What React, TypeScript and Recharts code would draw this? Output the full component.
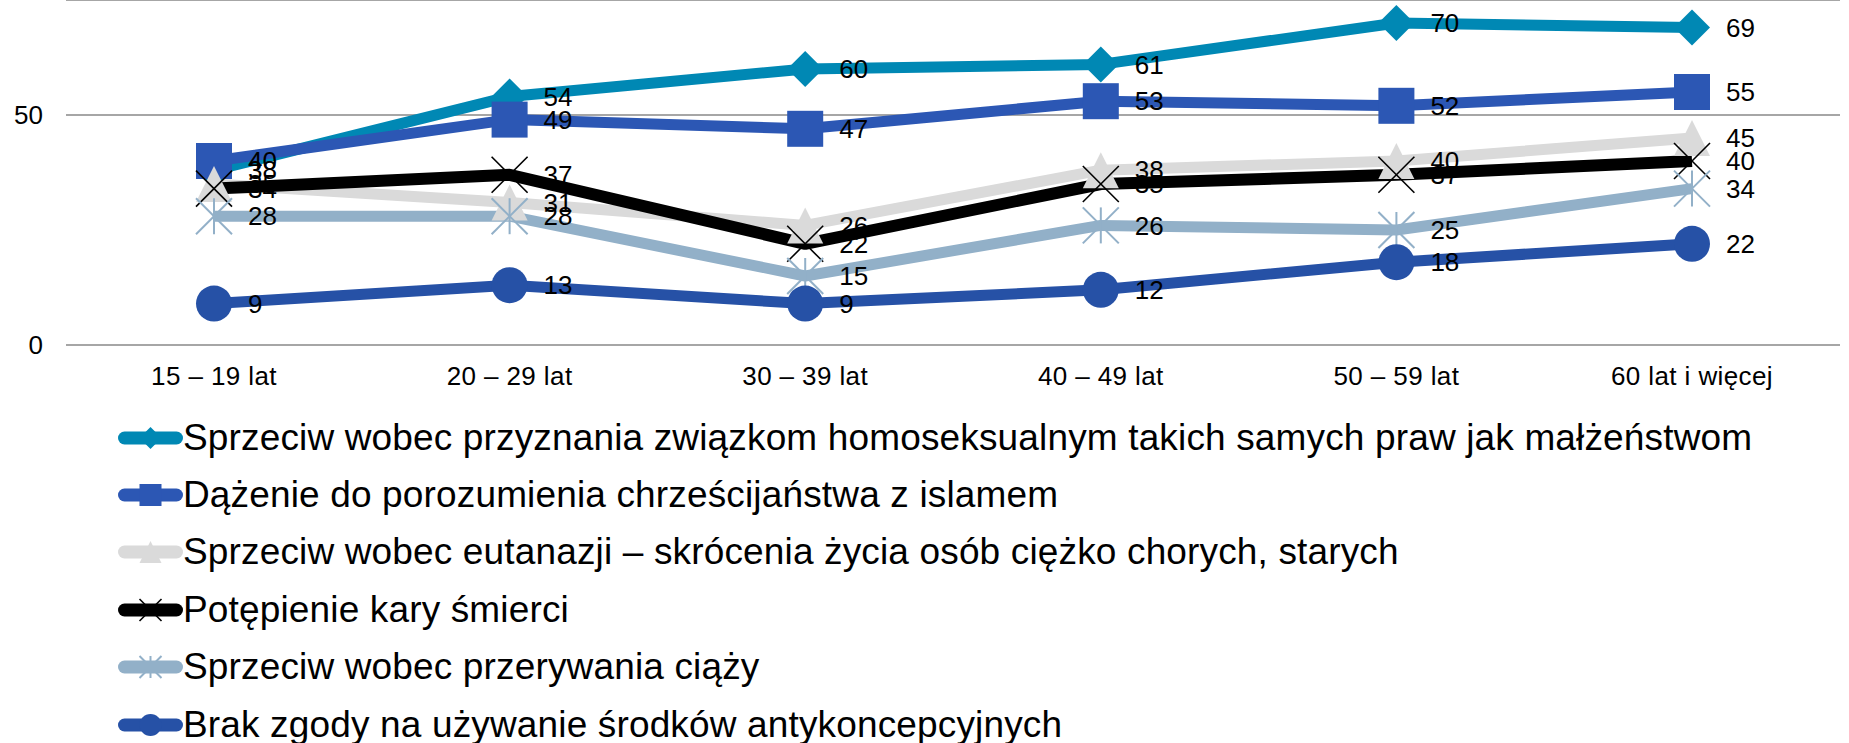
import { LineChart, Line, XAxis, YAxis, CartesianGrid, Legend, LabelList } from 'recharts';

const FONT = '"Liberation Sans", Arial, sans-serif';

const ageGroups = ['15 – 19 lat', '20 – 29 lat', '30 – 39 lat', '40 – 49 lat', '50 – 59 lat', '60 lat i więcej'];

const homoUnions = [38, 54, 60, 61, 70, 69];
const islamDialogue = [40, 49, 47, 53, 52, 55];
const euthanasia = [35, 31, 26, 38, 40, 45];
const deathPenalty = [34, 37, 22, 35, 37, 40];
const abortion = [28, 28, 15, 26, 25, 34];
const contraception = [9, 13, 9, 12, 18, 22];

const seriesNames = [
  'Sprzeciw wobec przyznania związkom homoseksualnym takich samych praw jak małżeństwom',
  'Dążenie do porozumienia chrześcijaństwa z islamem',
  'Sprzeciw wobec eutanazji – skrócenia życia osób ciężko chorych, starych',
  'Potępienie kary śmierci',
  'Sprzeciw wobec przerywania ciąży',
  'Brak zgody na używanie środków antykoncepcyjnych',
];

const yTicks = [0, 50];

type Shape = 'diamond' | 'square' | 'triangle' | 'x' | 'star' | 'circle';

const series: { key: string; values: number[]; color: string; width: number; shape: Shape }[] = [
  { key: 's1', values: homoUnions, color: '#0088b4', width: 11, shape: 'diamond' },
  { key: 's2', values: islamDialogue, color: '#2c57b4', width: 11, shape: 'square' },
  { key: 's3', values: euthanasia, color: '#dadada', width: 11, shape: 'triangle' },
  { key: 's4', values: deathPenalty, color: '#000000', width: 12, shape: 'x' },
  { key: 's5', values: abortion, color: '#92b0c8', width: 11, shape: 'star' },
  { key: 's6', values: contraception, color: '#2651a6', width: 11, shape: 'circle' },
];

const data = ageGroups.map((group, i) => {
  const row: Record<string, string | number> = { group };
  series.forEach((s) => {
    row[s.key] = s.values[i];
  });
  return row;
});

const marker = (shape: Shape, cx: number, cy: number, h: number, color: string, key?: string) => {
  switch (shape) {
    case 'diamond':
      return <polygon key={key} points={`${cx},${cy - h} ${cx + h},${cy} ${cx},${cy + h} ${cx - h},${cy}`} fill={color} />;
    case 'square':
      return <rect key={key} x={cx - h} y={cy - h} width={h * 2} height={h * 2} fill={color} />;
    case 'triangle':
      return <polygon key={key} points={`${cx},${cy - h} ${cx + h},${cy + h} ${cx - h},${cy + h}`} fill={color} />;
    case 'circle':
      return <circle key={key} cx={cx} cy={cy} r={h} fill={color} />;
    case 'x':
      return (
        <g key={key} stroke={color} strokeWidth={1.6}>
          <line x1={cx - h} y1={cy - h} x2={cx + h} y2={cy + h} />
          <line x1={cx - h} y1={cy + h} x2={cx + h} y2={cy - h} />
        </g>
      );
    case 'star':
      return (
        <g key={key} stroke={color} strokeWidth={2}>
          <line x1={cx - h} y1={cy - h} x2={cx + h} y2={cy + h} />
          <line x1={cx - h} y1={cy + h} x2={cx + h} y2={cy - h} />
          <line x1={cx} y1={cy - h} x2={cx} y2={cy + h} />
        </g>
      );
  }
};

const makeDot = (shape: Shape, color: string) => (props: any) => {
  const { cx, cy, index } = props;
  if (cx == null || cy == null) return <g key={`d-${index}`} />;
  return marker(shape, cx, cy, 18, color, `d-${index}`);
};

const renderLegend = () => (
  <div style={{ fontFamily: FONT, fontSize: 37, letterSpacing: 0.15, color: '#000' }}>
    {series.map((s, i) => (
      <div key={s.key} style={{ display: 'flex', alignItems: 'center', height: 57.4, whiteSpace: 'nowrap' }}>
        <svg width={65} height={30} style={{ flex: 'none' }}>
          <line x1={6.5} y1={15} x2={58.5} y2={15} stroke={s.color} strokeWidth={13} strokeLinecap="round" />
          {marker(s.shape, 32.5, 15, 11, s.color)}
        </svg>
        <span>{seriesNames[i]}</span>
      </div>
    ))}
  </div>
);

export default function App() {
  return (
    <div style={{ position: 'absolute', left: 0, top: 0, width: 1849, height: 743, background: '#fff' }}>
      <LineChart width={1849} height={743} data={data} margin={{ top: 0, right: 9, left: 0, bottom: 338 }}>
        <CartesianGrid vertical={false} stroke="#888888" strokeWidth={1.5} />
        <XAxis
          dataKey="group"
          axisLine={false}
          tickLine={false}
          height={60}
          padding={{ left: 148, right: 148 }}
          tickMargin={16}
          interval={0}
          tick={{ fontSize: 26, fill: '#000', fontFamily: FONT, letterSpacing: 0.4 }}
        />
        <YAxis
          width={66}
          domain={[0, 75]}
          ticks={yTicks}
          axisLine={false}
          tickLine={false}
          tickMargin={17}
          tick={{ fontSize: 26, fill: '#000', fontFamily: FONT }}
        />
        {series.map((s) => (
          <Line
            key={s.key}
            dataKey={s.key}
            stroke={s.color}
            strokeWidth={s.width}
            strokeLinejoin="round"
            dot={makeDot(s.shape, s.color)}
            activeDot={false}
            isAnimationActive={false}
            type="linear"
          />
        ))}
        {series.map((s) => (
          <Line
            key={`lbl-${s.key}`}
            dataKey={s.key}
            stroke="none"
            dot={false}
            activeDot={false}
            legendType="none"
            isAnimationActive={false}
          >
            <LabelList
              dataKey={s.key}
              position="right"
              offset={34}
              fill="#000"
              fontSize={26}
              fontFamily={FONT}
            />
          </Line>
        ))}
        <Legend
          content={renderLegend}
          layout="vertical"
          align="center"
          verticalAlign="middle"
          wrapperStyle={{ top: 409, left: 118, width: 1720 }}
        />
      </LineChart>
    </div>
  );
}
